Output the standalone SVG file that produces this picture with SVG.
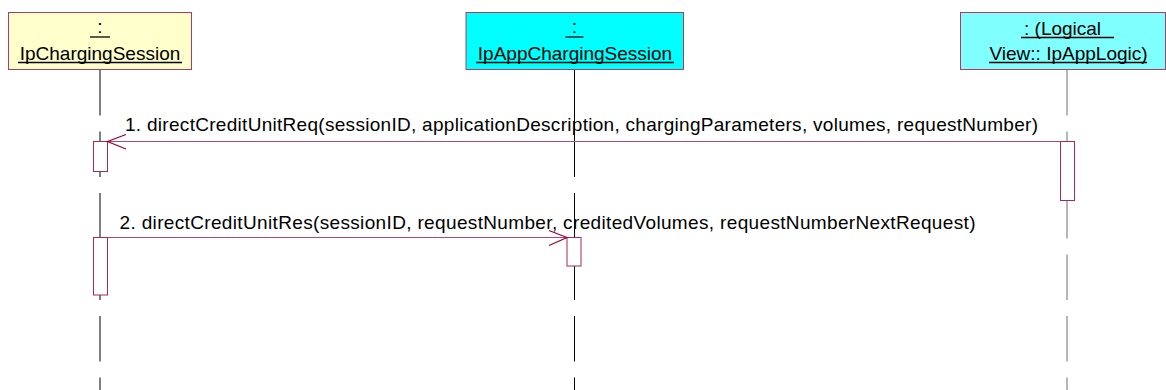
<svg xmlns="http://www.w3.org/2000/svg" width="1166" height="390" viewBox="0 0 1166 390">
<style>
text{font-family:"Liberation Sans",Arial,sans-serif;font-size:19px;fill:#000}
.obj{stroke:#b03a66;stroke-width:1}
.ul{stroke:#000;stroke-width:1.3}
.life{stroke:#000;stroke-width:1;fill:none}
.dash{stroke-dasharray:45.5 16}
.act{fill:#fff;stroke:#a8285a;stroke-width:1}
.msg{stroke:#b84870;stroke-width:1;fill:none}
.head{stroke:#990033;stroke-width:1.2;fill:none}
</style>
<rect width="1166" height="390" fill="#fff"/>
<g id="lifelines">
<line class="life dash" x1="100" y1="70" x2="100" y2="390"/>
<line class="life" x1="574.5" y1="70" x2="574.5" y2="177"/>
<line class="life dash" x1="574.5" y1="193" x2="574.5" y2="390"/>
<line class="life dash" x1="1067" y1="70" x2="1067" y2="390" style="stroke:#6e6e6e"/>
</g>
<g id="IpChargingSession">
<rect class="obj" x="8.5" y="12.5" width="183" height="57" fill="#ffffcc"/>
<text x="100" y="33" text-anchor="middle">:</text>
<line class="ul" x1="90" y1="37" x2="110" y2="37"/>
<text x="100" y="60" text-anchor="middle">IpChargingSession</text>
<line class="ul" x1="18" y1="62.5" x2="182" y2="62.5"/>
</g>
<g id="IpAppChargingSession">
<rect class="obj" x="466" y="12.5" width="217.5" height="57" fill="#00ffff"/>
<text x="574.5" y="33" text-anchor="middle">:</text>
<line class="ul" x1="565.5" y1="37" x2="583.5" y2="37"/>
<text x="575" y="60" text-anchor="middle">IpAppChargingSession</text>
<line class="ul" x1="476" y1="62.5" x2="674" y2="62.5"/>
</g>
<g id="IpAppLogic">
<rect class="obj" x="960.5" y="12.5" width="205" height="57" fill="#80ffff"/>
<text x="1024" y="35">: (Logical</text>
<line class="ul" x1="1021" y1="37.5" x2="1114" y2="37.5"/>
<text x="989.5" y="60">View:: IpAppLogic)</text>
<line class="ul" x1="989" y1="62.5" x2="1147" y2="62.5"/>
</g>
<g id="activations">
<rect class="act" x="93.5" y="141.5" width="14" height="30"/>
<rect class="act" x="93.5" y="237.5" width="14" height="57.5"/>
<rect class="act" x="567" y="237.5" width="14" height="28.5"/>
<rect class="act" x="1060.5" y="141.5" width="14" height="59"/>
</g>
<g id="connectors">
<g id="msg1">
<line class="msg" x1="1060.5" y1="141.5" x2="107.5" y2="141.5"/>
<polyline class="head" points="126,134.5 107.5,141.5 126,149"/>
<text x="125" y="131" textLength="913" lengthAdjust="spacing">1. directCreditUnitReq(sessionID, applicationDescription, chargingParameters, volumes, requestNumber)</text>
</g>
<g id="msg2">
<line class="msg" x1="107.5" y1="237.5" x2="567" y2="237.5"/>
<polyline class="head" points="549,230.5 567,237.5 549,245.5"/>
<text x="119.5" y="228.5" textLength="856" lengthAdjust="spacing">2. directCreditUnitRes(sessionID, requestNumber, creditedVolumes, requestNumberNextRequest)</text>
</g>
</g>
</svg>
